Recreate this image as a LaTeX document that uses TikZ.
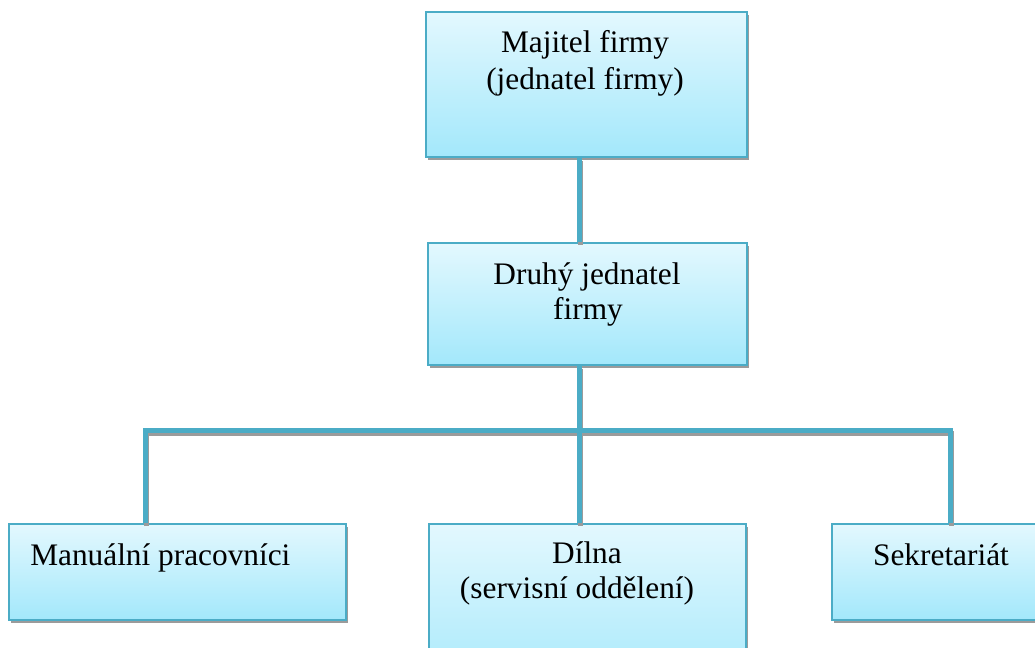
\documentclass[tikz,border=0pt]{standalone}
\usepackage{fontspec}
\setmainfont{Liberation Serif}
\usetikzlibrary{shadows}
\definecolor{edge}{HTML}{4BACC6}
\definecolor{topfill}{HTML}{E3F8FE}
\definecolor{botfill}{HTML}{A3E8FB}
\definecolor{shade}{HTML}{9B9B9B}
\tikzset{
  orgbox/.style={rectangle, draw=edge, line width=1.2pt, inner sep=0pt,
    top color=topfill, bottom color=botfill,
    drop shadow={shadow xshift=1.5pt, shadow yshift=-2.25pt, fill=shade, opacity=1}},
  lbl/.style={anchor=base, inner sep=0pt, font=\fontsize{23.5}{27.5}\selectfont},
  conn/.style={draw=edge, line width=3.75pt},
  connshadow/.style={draw=shade, line width=3.75pt,
    transform canvas={shift={(0.75pt,-2.25pt)}}},
}
\begin{document}
\begin{tikzpicture}[x=0.75pt, y=-0.75pt]
  \useasboundingbox (0,0) rectangle (1035,648);
  \clip (0,0) rectangle (1035,648);

  % boxes
  \node[orgbox, minimum width=240.75pt, minimum height=108.75pt] (owner) at (586.5,84.5) {};
  \node[orgbox, minimum width=239.25pt, minimum height=91.5pt] (second) at (587.5,304) {};
  \node[orgbox, minimum width=252.75pt, minimum height=72pt] (manual) at (177.5,572) {};
  \node[orgbox, minimum width=237.75pt, minimum height=132pt] (shop) at (587.5,612) {};
  \node[orgbox, minimum width=163.5pt, minimum height=72pt] (office) at (941,572) {};

  % labels
  \node[lbl] (owner1) at (585,53) {Majitel firmy};
  \node[lbl] (owner2) at (585,90) {(jednatel firmy)};
  \node[lbl] (second1) at (587,285) {Druhý jednatel};
  \node[lbl] (second2) at (588,320) {firmy};
  \node[lbl, anchor=base west] (manual1) at (30,565) {Manuální pracovníci};
  \node[lbl] (shop1) at (587,563) {Dílna};
  \node[lbl] (shop2) at (577,598) {(servisní oddělení)};
  \node[lbl] (office1) at (941,565) {Sekretariát};

  % connector routing points
  \coordinate (trunk) at (579,0);
  \coordinate (busL) at (145,430);
  \coordinate (busR) at (950,430);

  % connector shadows
  \draw[connshadow] (owner.south -| trunk) -- (second.north -| trunk);
  \draw[connshadow] (second.south -| trunk) -- (shop.north -| trunk);
  \draw[connshadow] (manual.north -| busL) -- (busL) -- (busR) -- (office.north -| busR);

  % connectors
  \draw[conn] (owner.south -| trunk) -- (second.north -| trunk);
  \draw[conn] (second.south -| trunk) -- (shop.north -| trunk);
  \draw[conn] (manual.north -| busL) -- (busL) -- (busR) -- (office.north -| busR);
\end{tikzpicture}
\end{document}
